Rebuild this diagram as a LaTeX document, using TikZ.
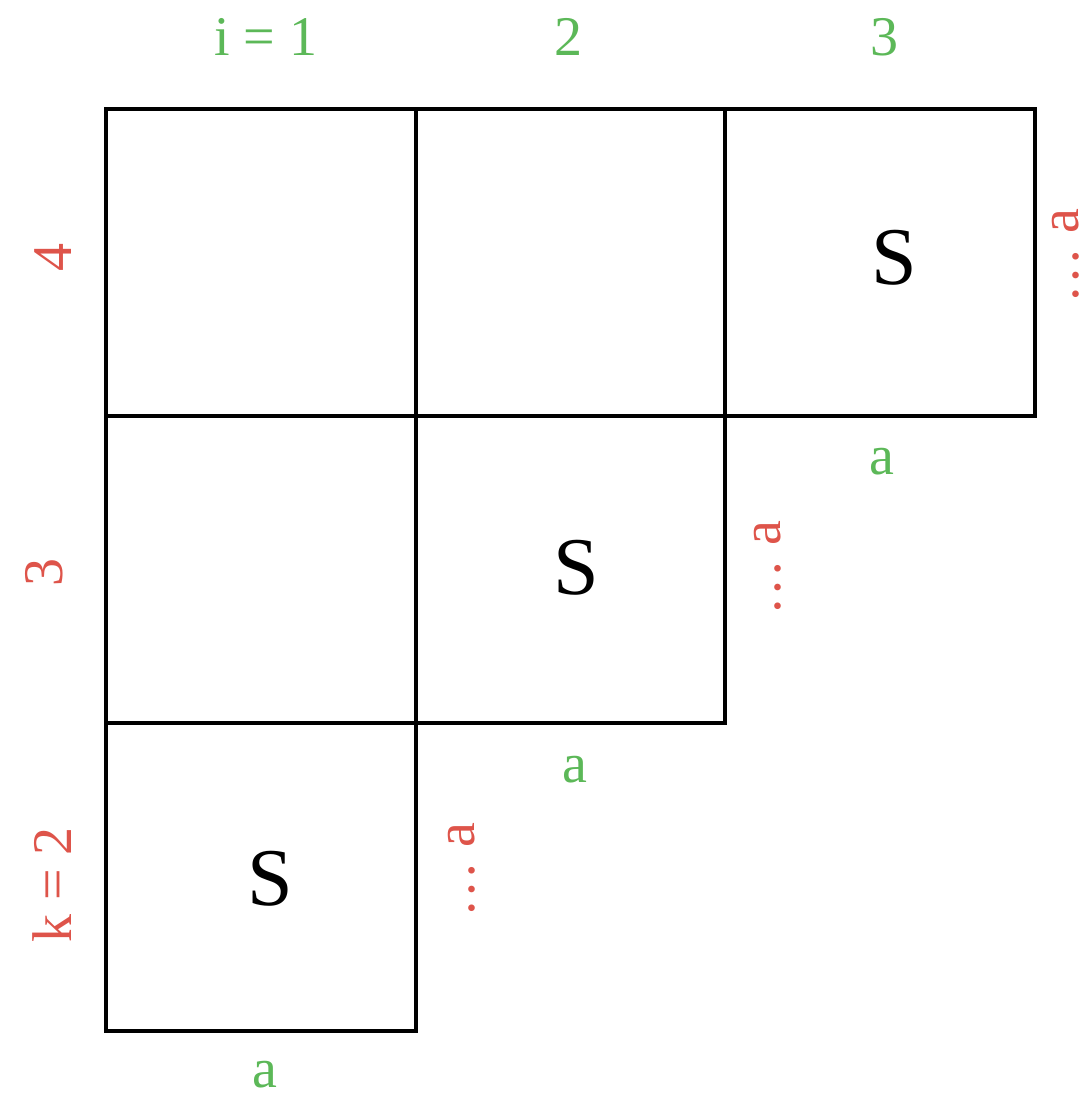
\documentclass[tikz,border=0pt]{standalone}
\usepackage{fontspec}
\setmainfont{Liberation Serif}
\usepackage{tikz}

\definecolor{idxgreen}{RGB}{92,184,88}
\definecolor{idxred}{RGB}{222,84,74}

\tikzset{
    cell/.style={line width=2pt},
    top label/.style={text=idxgreen, font=\fontsize{28}{30}\selectfont},
    side label/.style={text=idxred, font=\fontsize{28}{30}\selectfont, rotate=90},
    sym/.style={font=\fontsize{41}{44}\selectfont}
}

\begin{document}
\begin{tikzpicture}[x=0.5pt,y=-0.5pt]

\useasboundingbox (0,0) rectangle (1091,1099);

% Row 4
\draw[cell] (106,109) rectangle (416,416);
\draw[cell] (416,109) rectangle (725,416);
\draw[cell] (725,109) rectangle (1035,416);

% Row 3
\draw[cell] (106,416) rectangle (416,723);
\draw[cell] (416,416) rectangle (725,723);

% Row 2
\draw[cell] (106,723) rectangle (416,1031);

% Column indices
\node[top label] (i1) at (266,37) {i = 1};
\node[top label] (i2) at (568,37) {2};
\node[top label] (i3) at (884,37) {3};

% Row indices
\node[side label] (k4) at (53,257) {4};
\node[side label] (k3) at (44,572) {3};
\node[side label] (k2) at (52,885) {k = 2};

% Diagonal cells
\node[sym] (s3) at (894,258) {S};
\node[sym] (s2) at (576,568) {S};
\node[sym] (s1) at (270,879) {S};

% Widths below
\node[top label] (a3) at (882,462) {a};
\node[top label] (a2) at (575,770) {a};
\node[top label] (a1) at (265,1075) {a};

% Heights at the steps
\node[side label] (h3) at (1066,256) {\textellipsis{} a};
\node[side label] (h2) at (768,568) {\textellipsis{} a};
\node[side label] (h1) at (462,870) {\textellipsis{} a};

\end{tikzpicture}
\end{document}
